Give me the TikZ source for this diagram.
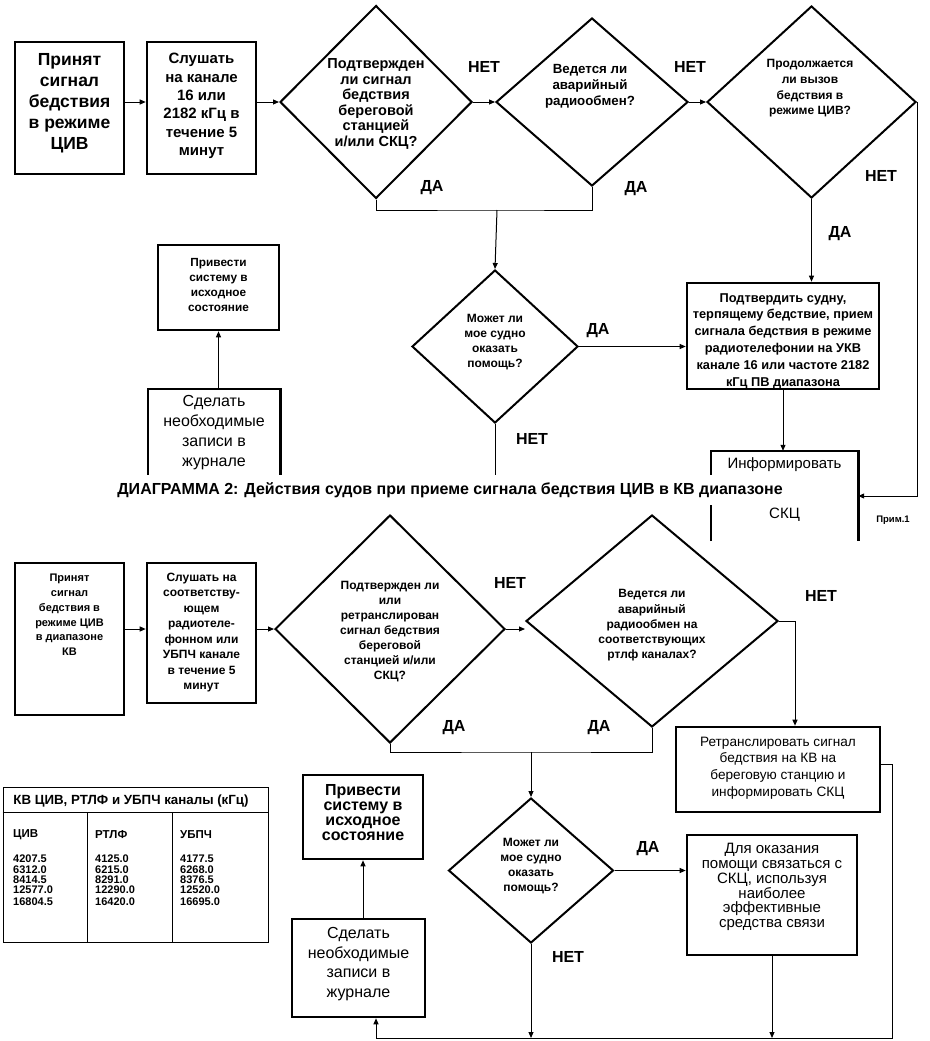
\documentclass[tikz,border=0pt]{standalone}
\usepackage{fontspec}
\setmainfont{Liberation Sans}
\usetikzlibrary{arrows.meta,shapes.geometric,fit}
\begin{document}
\begin{tikzpicture}[x=1pt,y=-1pt,
  box/.style={draw, line width=2.6pt, inner sep=0pt},
  dia/.style={draw, diamond, line width=2pt, inner sep=0pt},
  conn/.style={line width=1pt},
  arr/.style={conn, -{Triangle[length=6pt,width=5pt]}},
  txt/.style={align=center, inner sep=0pt, font=\bfseries\fontsize{12}{15.5}\selectfont},
  rtxt/.style={align=center, inner sep=0pt, font=\fontsize{15}{17}\selectfont},
  lab/.style={inner sep=0pt, font=\bfseries\fontsize{16}{16}\selectfont},
  tnum/.style={align=left, inner sep=0pt, anchor=north west, font=\bfseries\fontsize{11}{10.3}\selectfont},
]
\fill[white] (0,0) rectangle (929,1041);
\useasboundingbox (0,0) rectangle (929,1041);

% ===== top diagram =====
\node[box, fit={(15,42) (124,174)}] (A) {};
\node[txt, font=\bfseries\fontsize{17.5}{21}\selectfont] (At) at (69.5,103.5) {Принят\\сигнал\\бедствия\\в режиме\\ЦИВ};
\node[box, fit={(147,42) (256,174)}] (B) {};
\node[txt, font=\bfseries\fontsize{15}{18.4}\selectfont] (Bt) at (201.5,106) {Слушать\\на канале\\16 или\\2182 кГц в\\течение 5\\минут};

\node[dia, minimum width=192pt, minimum height=193pt] (d1) at (376,102) {};
\node[txt, font=\bfseries\fontsize{14.5}{15.6}\selectfont] (d1t) at (376,104) {Подтвержден\\ли сигнал\\бедствия\\береговой\\станцией\\и/или СКЦ?};
\node[dia, minimum width=192pt, minimum height=168pt] (d2) at (592,102) {};
\node[txt, font=\bfseries\fontsize{13.3}{16}\selectfont] (d2t) at (590,86) {Ведется ли\\аварийный\\радиообмен?};
\node[dia, minimum width=209pt, minimum height=192pt] (d4) at (811.5,102) {};
\node[txt, font=\bfseries\fontsize{12}{15.7}\selectfont] (d4t) at (810,88.5) {Продолжается\\ли вызов\\бедствия в\\режиме ЦИВ?};

\node[lab] (n1) at (484,67) {НЕТ};
\node[lab] (y1) at (432,188) {ДА};
\node[lab] (y2) at (636,189) {ДА};
\node[lab] (n2) at (690,67) {НЕТ};
\node[lab] (n3) at (881,176) {НЕТ};
\node[lab] (y3) at (840,234) {ДА};

\node[dia, minimum width=166pt, minimum height=153pt] (d3) at (495,346.5) {};
\node[txt, font=\bfseries\fontsize{12}{15}\selectfont] (d3t) at (495,342.5) {Может ли\\мое судно\\оказать\\помощь?};
\node[lab] (y4) at (598,331) {ДА};
\node[lab] (n4) at (532,439) {НЕТ};

\node[box, fit={(158,245) (279,330)}] (pr1) {};
\node[txt, font=\bfseries\fontsize{11.8}{15}\selectfont] (pr1t) at (218.5,284.5) {Привести\\систему в\\исходное\\состояние};

\node[inner sep=0pt, fit={(148,389) (280,478)}] (rec1) {};
\draw[line width=2.6pt] (rec1.south west) -- (rec1.north west) -- (rec1.north east) -- (rec1.south east);
\node[rtxt, font=\fontsize{16}{20}\selectfont] (rec1t) at (214,433) {Сделать\\необходимые\\записи в\\журнале};

\node[box, fit={(687,283) (879,389)}] (C) {};
\node[txt, font=\bfseries\fontsize{12.8}{16.8}\selectfont] (Ct) at (783,341) {Подтвердить судну,\\терпящему бедствие, прием\\сигнала бедствия в режиме\\радиотелефонии на УКВ\\канале 16 или частоте 2182\\кГц ПВ диапазона};

\node[inner sep=0pt, fit={(711,451) (858,541)}] (inf) {};
\draw[line width=2.6pt] (inf.south west) -- (inf.north west) -- (inf.north east) -- (inf.south east);
\node[rtxt] (inft1) at (784.5,465) {Информировать};
\node[rtxt] (inft2) at (784.5,515) {СКЦ};
\node[inner sep=0pt, font=\bfseries\fontsize{9.5}{10}\selectfont] (prim) at (893,520) {Прим.1};

% top connectors
\draw[arr] (A.east |- d1.west) -- (B.west |- d1.west);
\draw[arr] (B.east |- d1.west) -- (d1.west);
\draw[arr] (d1.east) -- (d2.west);
\draw[arr] (d2.east) -- (d4.west);
\coordinate (j1) at (497,210);
\draw[conn] (d1.south) |- (j1) -| (d2.south);
\draw[arr] (j1) -- (d3.north);
\draw[arr] (d4.south) -- (d4.south |- C.north);
\draw[arr] (d4.east) |- (inf.east);
\draw[arr] (d3.east) -- (d3.east -| C.west);
\draw[arr] (C.south) -- (C.south |- inf.north);
\draw[arr] (pr1.south |- rec1.north) -- (pr1.south);
\coordinate (d3e) at (495,482);
\draw[conn] (d3.south) -- (d3e);

% ===== bottom diagram =====
\node[box, fit={(15,563) (124,715)}] (E) {};
\node[txt, font=\bfseries\fontsize{11}{14.8}\selectfont] (Et) at (69.5,615) {Принят\\сигнал\\бедствия в\\режиме ЦИВ\\в диапазоне\\КВ};
\node[box, fit={(147,563) (256,703)}] (F) {};
\node[txt] (Ft) at (201.5,632.5) {Слушать на\\соответству-\\ющем\\радиотеле-\\фонном или\\УБПЧ канале\\в течение 5\\минут};

\node[dia, minimum width=230pt, minimum height=228pt] (d5) at (390,629) {};
\node[txt, font=\bfseries\fontsize{12}{15}\selectfont] (d5t) at (390,632) {Подтвержден ли\\или\\ретранслирован\\сигнал бедствия\\береговой\\станцией и/или\\СКЦ?};
\node[dia, minimum width=252pt, minimum height=212pt] (d6) at (652,621) {};
\node[txt, font=\bfseries\fontsize{12}{15.3}\selectfont] (d6t) at (652,625.5) {Ведется ли\\аварийный\\радиообмен на\\соответствующих\\ртлф каналах?};
\node[lab] (n5) at (510,583) {НЕТ};
\node[lab] (n6) at (821,596) {НЕТ};
\node[lab] (y5) at (454,728) {ДА};
\node[lab] (y6) at (599,728) {ДА};

\node[box, fit={(676,727) (880,812)}] (G) {};
\node[rtxt, font=\fontsize{13.6}{16.7}\selectfont] (Gt) at (778,768) {Ретранслировать сигнал\\бедствия на КВ на\\береговую станцию и\\информировать СКЦ};

\node[dia, minimum width=165pt, minimum height=145pt] (d7) at (531,870.5) {};
\node[txt, font=\bfseries\fontsize{12}{15}\selectfont] (d7t) at (531,866) {Может ли\\мое судно\\оказать\\помощь?};
\node[lab] (y7) at (648,849) {ДА};
\node[lab] (n7) at (568,957) {НЕТ};

\node[box, fit={(687,835) (857,955)}] (H) {};
\node[rtxt, font=\fontsize{15}{14.8}\selectfont] (Ht) at (772,887) {Для оказания\\помощи связаться с\\СКЦ, используя\\наиболее\\эффективные\\средства связи};

\node[box, fit={(303,775) (423,859)}] (pr2) {};
\node[txt, font=\bfseries\fontsize{16}{15}\selectfont] (pr2t) at (363,812.5) {Привести\\систему в\\исходное\\состояние};
\node[box, fit={(292,919) (425,1017)}] (sd2) {};
\node[rtxt, font=\fontsize{16}{19.5}\selectfont] (sd2t) at (358.5,964) {Сделать\\необходимые\\записи в\\журнале};

% table
\node[draw, line width=1pt, inner sep=0pt, fit={(3,787) (268,942)}] (tab) {};
\draw[conn] (tab.west |- 0,812) -- (tab.east |- 0,812);
\draw[conn] (87,812) -- (87,942);
\draw[conn] (172,812) -- (172,942);
\node[inner sep=0pt, font=\bfseries\fontsize{13.3}{13}\selectfont] (tabh) at (131,801) {КВ ЦИВ, РТЛФ и УБПЧ каналы (кГц)};
\node[inner sep=0pt, anchor=west, font=\bfseries\fontsize{11.5}{12}\selectfont] (th1) at (13,835) {ЦИВ};
\node[inner sep=0pt, anchor=west, font=\bfseries\fontsize{11.5}{12}\selectfont] (th2) at (95,835) {РТЛФ};
\node[inner sep=0pt, anchor=west, font=\bfseries\fontsize{11.5}{12}\selectfont] (th3) at (180,835) {УБПЧ};
\node[tnum] (c1) at (13,855) {4207.5\\6312.0\\8414.5\\12577.0\\[1.5pt]16804.5};
\node[tnum] (c2) at (95,855) {4125.0\\6215.0\\8291.0\\12290.0\\[1.5pt]16420.0};
\node[tnum] (c3) at (180,855) {4177.5\\6268.0\\8376.5\\12520.0\\[1.5pt]16695.0};

% bottom connectors
\draw[arr] (E.east |- d5.west) -- (F.west |- d5.west);
\draw[arr] (F.east |- d5.west) -- (d5.west);
\draw[arr] (d5.east) -- (d5.east -| d6.west);
\coordinate (j2) at (531,752);
\draw[conn] (d5.south) |- (j2) -| (d6.south);
\draw[arr] (j2) -- (d7.north);
\coordinate (c6) at (795,621);
\draw[arr] (d6.east) -- (c6) -- (c6 |- G.north);
\draw[arr] (d7.east) -- (d7.east -| H.west);
\coordinate (br) at (892,1038);
\coordinate (bl) at (376,1038);
\draw[arr] ([yshift=5pt]G.east) -| (br) -- (bl) -- (bl |- sd2.south);
\draw[arr] (d7.south) -- (d7.south |- br);
\draw[arr] (H.south) -- (H.south |- br);
\draw[arr] (pr2.south |- sd2.north) -- (pr2.south);

% title (covers parts behind it)
\node[fill=white, inner xsep=8pt, inner ysep=7pt, font=\bfseries\fontsize{16}{16}\selectfont] (title) at (450,490) {ДИАГРАММА 2: Действия судов при приеме сигнала бедствия ЦИВ в КВ диапазоне};
\end{tikzpicture}
\end{document}
